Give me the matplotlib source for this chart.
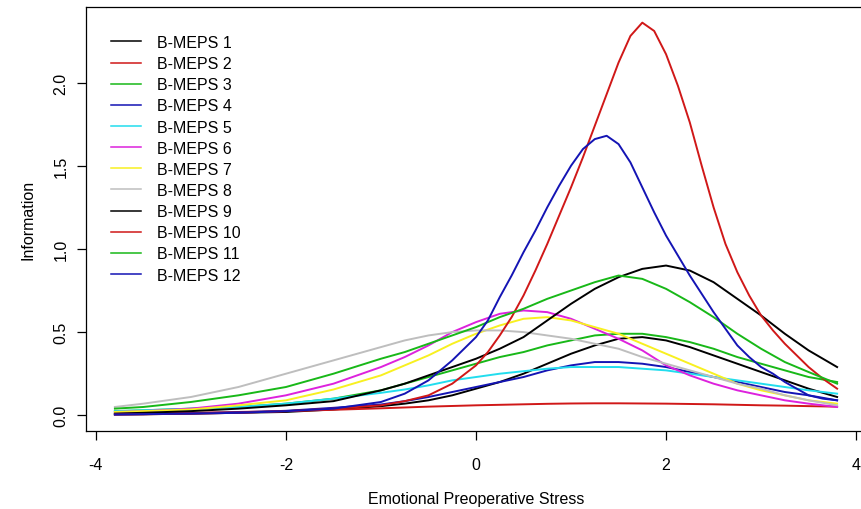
import matplotlib
matplotlib.use('Agg')
import matplotlib.pyplot as plt

plt.rcParams['font.family'] = ['Liberation Sans', 'DejaVu Sans']

# Theta grid (latent trait) used for the flatter information curves
theta = [-3.8, -3.5, -3.0, -2.5, -2.0, -1.5, -1.0, -0.75, -0.5, -0.25, 0.0, 0.25, 0.5,
         0.75, 1.0, 1.25, 1.5, 1.75, 2.0, 2.25, 2.5, 2.75, 3.0, 3.25, 3.5, 3.8]

# finer grid for the two peaked items
theta_fine = [-3.8, -3.5, -3.0, -2.5, -2.0, -1.5, -1.0, -0.75, -0.5, -0.25, 0.0,
              0.125, 0.25, 0.375, 0.5, 0.625, 0.75, 0.875, 1.0, 1.125, 1.25, 1.375, 1.5,
              1.625, 1.75, 1.875, 2.0, 2.125, 2.25, 2.375, 2.5, 2.625, 2.75, 2.875, 3.0,
              3.125, 3.25, 3.375, 3.5, 3.65, 3.8]

# Item information values
item1 = [0.005, 0.006, 0.01, 0.015, 0.02, 0.035, 0.055, 0.07, 0.09, 0.12, 0.16, 0.20, 0.25,
         0.31, 0.37, 0.42, 0.46, 0.47, 0.45, 0.41, 0.36, 0.31, 0.26, 0.21, 0.16, 0.11]
item2 = [0.01, 0.012, 0.015, 0.02, 0.025, 0.033, 0.042, 0.047, 0.052, 0.056, 0.06, 0.063, 0.066,
         0.069, 0.071, 0.072, 0.072, 0.071, 0.07, 0.068, 0.066, 0.063, 0.06, 0.058, 0.055, 0.052]
item3 = [0.025, 0.03, 0.04, 0.05, 0.07, 0.10, 0.15, 0.19, 0.23, 0.27, 0.31, 0.35, 0.38,
         0.42, 0.45, 0.48, 0.49, 0.49, 0.47, 0.44, 0.40, 0.35, 0.31, 0.27, 0.23, 0.20]
item4 = [0.005, 0.007, 0.012, 0.018, 0.027, 0.045, 0.065, 0.085, 0.11, 0.14, 0.17, 0.20, 0.23,
         0.27, 0.30, 0.32, 0.32, 0.31, 0.29, 0.26, 0.23, 0.20, 0.17, 0.14, 0.12, 0.09]
item5 = [0.025, 0.03, 0.04, 0.05, 0.07, 0.10, 0.135, 0.155, 0.18, 0.21, 0.23, 0.25, 0.265,
         0.28, 0.29, 0.29, 0.29, 0.28, 0.27, 0.25, 0.23, 0.21, 0.19, 0.17, 0.15, 0.13]
item6 = [0.02, 0.025, 0.04, 0.07, 0.12, 0.19, 0.29, 0.35, 0.42, 0.50, 0.56, 0.61, 0.63,
         0.62, 0.58, 0.52, 0.46, 0.39, 0.30, 0.24, 0.19, 0.15, 0.12, 0.09, 0.07, 0.05]
item7 = [0.02, 0.025, 0.035, 0.06, 0.09, 0.155, 0.24, 0.30, 0.36, 0.43, 0.49, 0.54, 0.58,
         0.59, 0.57, 0.53, 0.49, 0.43, 0.37, 0.31, 0.25, 0.19, 0.15, 0.12, 0.09, 0.07]
item8 = [0.05, 0.07, 0.11, 0.17, 0.25, 0.33, 0.41, 0.45, 0.48, 0.50, 0.51, 0.51, 0.50,
         0.48, 0.46, 0.43, 0.40, 0.35, 0.31, 0.27, 0.23, 0.19, 0.16, 0.12, 0.09, 0.06]
item9 = [0.01, 0.015, 0.025, 0.04, 0.06, 0.085, 0.15, 0.19, 0.24, 0.29, 0.34, 0.40, 0.47,
         0.57, 0.67, 0.76, 0.83, 0.88, 0.90, 0.87, 0.80, 0.70, 0.60, 0.49, 0.39, 0.29]
item10 = [0.005, 0.006, 0.01, 0.015, 0.025, 0.04, 0.06, 0.085, 0.12, 0.19, 0.30,
          0.38, 0.48, 0.59, 0.72, 0.87, 1.03, 1.20, 1.37, 1.55, 1.74, 1.93, 2.12,
          2.28, 2.36, 2.31, 2.17, 1.98, 1.76, 1.50, 1.25, 1.03, 0.86, 0.72, 0.60,
          0.51, 0.43, 0.36, 0.29, 0.22, 0.16]
item11 = [0.04, 0.05, 0.08, 0.12, 0.17, 0.25, 0.34, 0.38, 0.43, 0.48, 0.53, 0.59, 0.64,
          0.70, 0.75, 0.80, 0.84, 0.82, 0.76, 0.68, 0.59, 0.49, 0.40, 0.32, 0.26, 0.19]
item12 = [0.005, 0.007, 0.01, 0.015, 0.025, 0.04, 0.08, 0.13, 0.21, 0.33, 0.47,
          0.57, 0.71, 0.84, 0.98, 1.11, 1.25, 1.38, 1.50, 1.60, 1.66, 1.68, 1.63,
          1.52, 1.37, 1.22, 1.08, 0.96, 0.84, 0.73, 0.62, 0.52, 0.42, 0.35, 0.29,
          0.25, 0.20, 0.16, 0.12, 0.10, 0.09]

items = [item1, item2, item3, item4, item5, item6, item7, item8, item9, item10, item11, item12]
labels = ['B-MEPS %d' % (i + 1) for i in range(12)]

# R's default palette, recycled
palette = ['black', '#D01818', '#18B818', '#1414B4', '#22DDEE', '#DD22DD', '#F8F020', '#BEBEBE']

fig = plt.figure(figsize=(8.62, 5.10), dpi=100)
W, H = 862, 510
ax = fig.add_axes([86 / W, (H - 432) / H, 780 / W, 424 / H])

for i, vals in enumerate(items):
    xs = theta_fine if len(vals) == len(theta_fine) else theta
    ax.plot(xs, vals, color=palette[i % 8], lw=1.4, label=labels[i])

ax.set_xlim(-4.104, 4.104)
ax.set_ylim(-0.0944, 2.454)
ax.set_xticks([-4, -2, 0, 2, 4])
ax.set_xticklabels(['-4', '-2', '0', '2', '4'])
ax.set_yticks([0.0, 0.5, 1.0, 1.5, 2.0])
ax.set_yticklabels(['0.0', '0.5', '1.0', '1.5', '2.0'], rotation=90, va='center')
ax.tick_params(axis='both', direction='out', length=6.5, width=0.9, labelsize=11.5)
ax.tick_params(axis='x', pad=12)
ax.tick_params(axis='y', pad=6)
for s in ax.spines.values():
    s.set_linewidth(0.9)

fig.text(476 / W, 1 - 500 / H, 'Emotional Preoperative Stress', ha='center', va='center', fontsize=11.5)
fig.text(28 / W, 1 - 220 / H, 'Information', ha='center', va='center', rotation=90, fontsize=11.5)

ax.legend(loc='upper left', bbox_to_anchor=(111 / W, 1 - 36 / H), bbox_transform=fig.transFigure,
          frameon=False, fontsize=11.5, borderpad=0, borderaxespad=0, handlelength=1.9,
          handletextpad=1.0, labelspacing=0.385)
for line in ax.get_legend().get_lines():
    line.set_linewidth(1.1)

fig.savefig('out.png', dpi=100)
